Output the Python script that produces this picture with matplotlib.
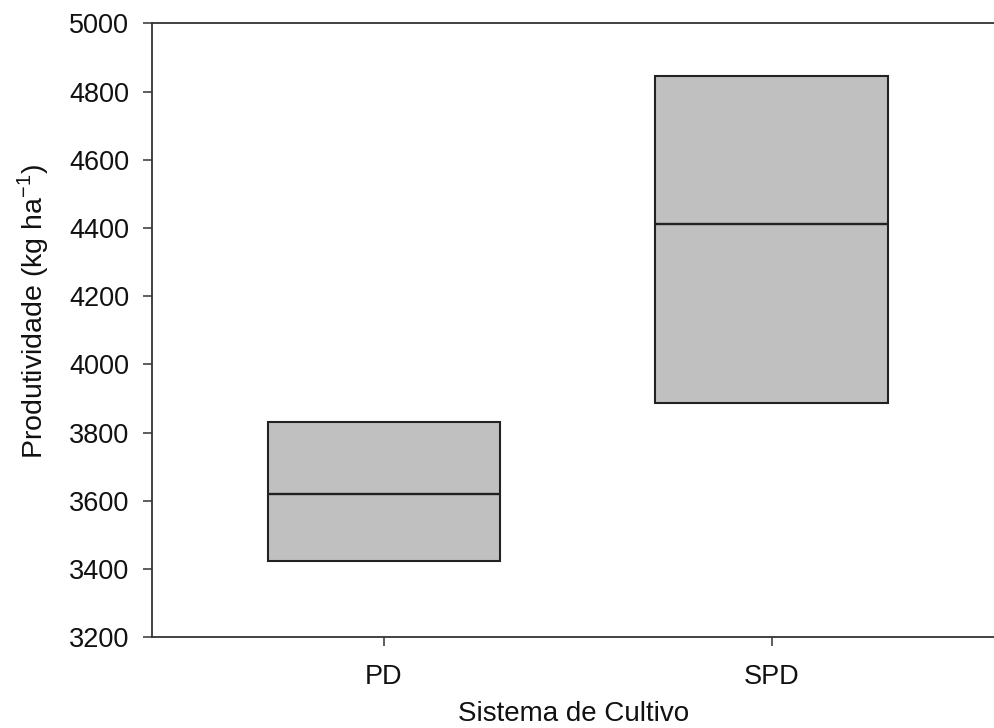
import matplotlib
matplotlib.use("Agg")
import matplotlib.pyplot as plt

plt.rcParams['font.family'] = ['Liberation Sans', 'DejaVu Sans']

categories = ["PD", "SPD"]
q1 = [3424, 3888]
medians = [3619, 4412]
q3 = [3830, 4845]

fig = plt.figure(figsize=(9.95, 7.28), dpi=100)
ax = fig.add_axes([0.1528, 0.1246, 0.8472, 0.8434])

stats = []
for name, lo, med, hi in zip(categories, q1, medians, q3):
    stats.append(dict(label=name, q1=lo, med=med, q3=hi,
                      whislo=lo, whishi=hi, fliers=[]))

line_col = "#222222"
ax.bxp(stats, positions=[1, 2], widths=0.6, patch_artist=True,
       showcaps=False, showfliers=False,
       boxprops=dict(facecolor="#c0c0c0", edgecolor=line_col, linewidth=1.5),
       medianprops=dict(color=line_col, linewidth=1.7),
       whiskerprops=dict(color=line_col, linewidth=0))

ax.set_xlim(0.402, 2.576)
ax.set_ylim(3200, 5000)
ax.set_yticks(range(3200, 5001, 200))
ax.set_xticks([1, 2])
ax.set_xticklabels(categories)

ax.spines["right"].set_visible(False)
for s in ["left", "bottom", "top"]:
    ax.spines[s].set_color("#333333")
    ax.spines[s].set_linewidth(1.3)

ax.tick_params(axis="both", direction="out", length=6.5, width=1.1,
               color="#333333", labelsize=19.5, labelcolor="#111111")
ax.tick_params(axis="y", pad=10)
ax.tick_params(axis="x", pad=13)

ax.set_xlabel("Sistema de Cultivo", fontsize=20, color="#111111")
ax.set_ylabel("Produtividade (kg ha$^{\\mathregular{-1}}$)", fontsize=20.5,
              color="#111111")
ax.xaxis.set_label_coords(0.5, -0.104)
ax.yaxis.set_label_coords(-0.12, 0.531)

fig.savefig("out.png", dpi=100)
